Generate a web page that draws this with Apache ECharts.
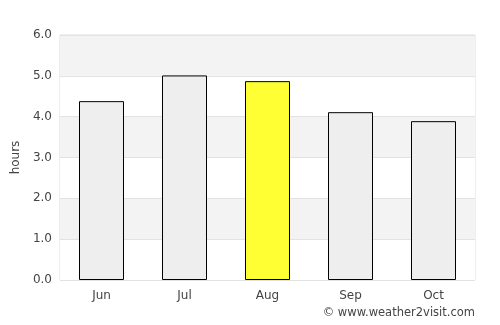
<!DOCTYPE html>
<html>
<head>
<meta charset="utf-8">
<script src="https://cdn.jsdelivr.net/npm/echarts@6/dist/echarts.min.js"></script>
<style>
  html, body { margin: 0; padding: 0; background: #fff; }
  #chart { width: 500px; height: 325px; }
</style>
</head>
<body>
<div id="chart"></div>
<script>
// data
var months = ['Jun', 'Jul', 'Aug', 'Sep', 'Oct'];
var hours = [4.38, 5.01, 4.87, 4.11, 3.89];
var highlight = 'Aug';

var myChart = echarts.init(document.getElementById('chart'));

var barData = months.map(function (m, i) {
    return {
        value: hours[i],
        itemStyle: { color: m === highlight ? '#ffff33' : '#eeeeee' }
    };
});

var option = {
    animation: false,
    textStyle: { fontFamily: 'DejaVu Sans' },
    grid: {
        left: 60, right: 25, top: 35, bottom: 45,
        show: true,
        borderColor: '#dddddd',
        borderWidth: 1,
        backgroundColor: 'transparent'
    },
    xAxis: {
        type: 'category',
        data: months,
        axisLine: { show: false },
        axisTick: { show: false },
        axisLabel: { color: '#444', fontSize: 12, margin: 10 }
    },
    yAxis: {
        type: 'value',
        min: 0, max: 6, interval: 1,
        name: 'hours',
        nameLocation: 'middle',
        nameGap: 30,
        nameTextStyle: { color: '#444', fontSize: 12 },
        axisLine: { show: false },
        axisTick: { show: false },
        axisLabel: {
            color: '#444', fontSize: 12, margin: 8,
            formatter: function (v) { return v.toFixed(1); }
        },
        splitLine: { lineStyle: { color: '#e2e2e2', width: 1 } },
        splitArea: { show: true, areaStyle: { color: ['#ffffff', '#f3f3f3'] } }
    },
    series: [{
        type: 'bar',
        data: barData,
        barWidth: 45,
        itemStyle: { borderColor: '#000', borderWidth: 1 }
    }],
    graphic: [{
        type: 'text',
        right: 25,
        top: 307,
        style: {
            text: '© www.weather2visit.com',
            fill: '#444',
            font: '11.5px DejaVu Sans'
        }
    }]
};

myChart.setOption(option);
</script>
</body>
</html>
